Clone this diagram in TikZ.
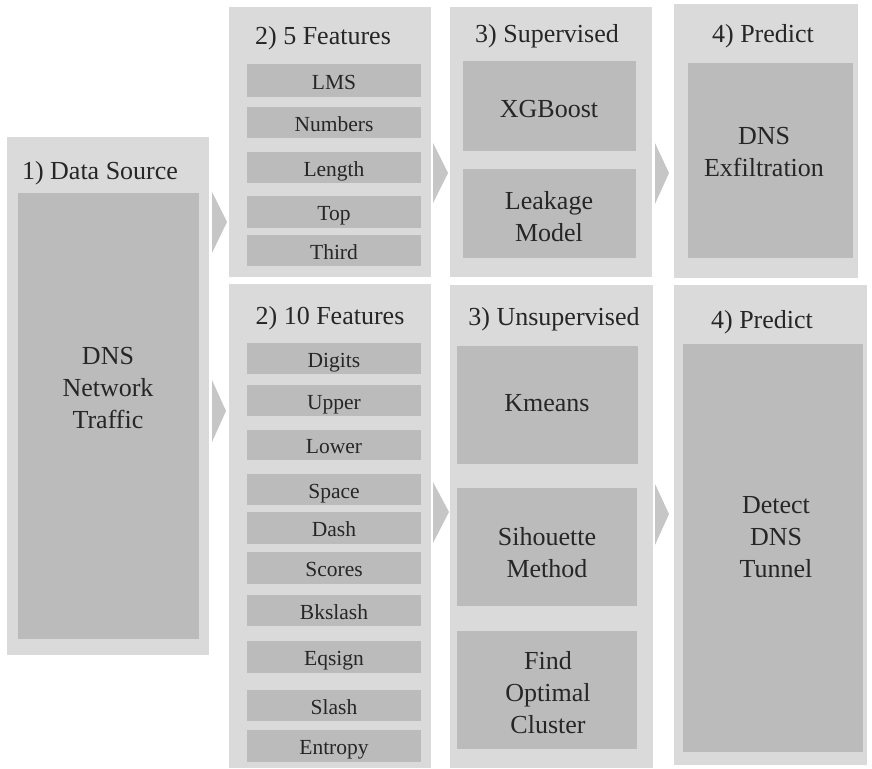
\documentclass[tikz,border=0pt]{standalone}
\usepackage{fontspec}
\setmainfont{Liberation Serif}
\usetikzlibrary{fit}
\definecolor{panelgray}{HTML}{D9DAD9}
\definecolor{boxgray}{HTML}{BBBBBB}
\definecolor{chevgray}{HTML}{C6C6C6}
\definecolor{txt}{HTML}{262626}
\begin{document}
\begin{tikzpicture}[x=1pt,y=-1pt,
  panel/.style={fill=panelgray, draw=none, inner sep=0pt, outer sep=0pt},
  inbox/.style={fill=boxgray, draw=none, inner sep=0pt, outer sep=0pt},
  feat/.style={text=txt, font=\fontsize{21.5}{24}\selectfont, inner sep=0pt, text height=18pt, text depth=1pt},
  big/.style={text=txt, font=\fontsize{26}{32}\selectfont, align=center, inner sep=0pt},
  ttl/.style={text=txt, font=\fontsize{26}{32}\selectfont, anchor=base, inner sep=0pt},
  chev/.style={fill=chevgray, draw=none}]
\useasboundingbox (0,0) rectangle (872,768);
% panels
\node[panel, fit={(7,137) (209,655)}] (ds) {};
\node[panel, fit={(229,7) (431,277)}] (f5) {};
\node[panel, fit={(229,284) (431,768)}] (f10) {};
\node[panel, fit={(450,7) (652,277)}] (sup) {};
\node[panel, fit={(450,285) (653,768)}] (uns) {};
\node[panel, fit={(674,4) (858,278)}] (p1) {};
\node[panel, fit={(674,285) (867,765)}] (p2) {};
% titles
\node[ttl] (tds) at (100,179) {1) Data Source};
\node[ttl] (tf5) at (323,45) {2) 5 Features};
\node[ttl] (tf10) at (330,324) {2) 10 Features};
\node[ttl] (tsup) at (547,43) {3) Supervised};
\node[ttl] (tuns) at (554,325) {3) Unsupervised};
\node[ttl] (tp1) at (763,43) {4) Predict};
\node[ttl] (tp2) at (762,328) {4) Predict};
% inner boxes
\node[inbox, fit={(18,193) (199,639)}] (dsin) {};
\node[big] (dstxt) at (108,388) {DNS\\Network\\Traffic};
\node[inbox, fit={(463,61) (636,151)}] (xgb) {};
\node[big] (xgbtxt) at (549,109) {XGBoost};
\node[inbox, fit={(463,169) (636,258)}] (leak) {};
\node[big] (leaktxt) at (549,217) {Leakage\\Model};
\node[inbox, fit={(688,63) (853,258)}] (exf) {};
\node[big] (exftxt) at (764,152) {DNS\\Exfiltration};
\node[inbox, fit={(457,346) (638,464)}] (km) {};
\node[big] (kmtxt) at (547,403) {Kmeans};
\node[inbox, fit={(457,488) (637,606)}] (sil) {};
\node[big] (siltxt) at (547,553) {Sihouette\\Method};
\node[inbox, fit={(457,631) (637,749)}] (fo) {};
\node[big] (fotxt) at (548,693) {Find\\Optimal\\Cluster};
\node[inbox, fit={(683,344) (863,752)}] (det) {};
\node[big] (dettxt) at (776,537) {Detect\\DNS\\Tunnel};
% 5 features
\node[inbox, fit={(247,64) (421,97)}] (lms) {};
\node[inbox, fit={(247,107) (421,138)}] (num) {};
\node[inbox, fit={(247,152) (421,183)}] (len) {};
\node[inbox, fit={(247,196) (421,228)}] (top) {};
\node[inbox, fit={(247,235) (421,266)}] (thi) {};
\node[feat] at (lms.center) {LMS};
\node[feat] at (num.center) {Numbers};
\node[feat] at (len.center) {Length};
\node[feat] at (top.center) {Top};
\node[feat] at (thi.center) {Third};
% 10 features
\node[inbox, fit={(247,343) (421,374)}] (dig) {};
\node[inbox, fit={(247,385) (421,416)}] (upp) {};
\node[inbox, fit={(247,430) (421,460)}] (low) {};
\node[inbox, fit={(247,474) (421,505)}] (spa) {};
\node[inbox, fit={(247,512) (421,544)}] (das) {};
\node[inbox, fit={(247,552) (421,584)}] (sco) {};
\node[inbox, fit={(247,595) (421,626)}] (bks) {};
\node[inbox, fit={(247,641) (421,673)}] (eqs) {};
\node[inbox, fit={(247,690) (421,721)}] (sla) {};
\node[inbox, fit={(247,730) (421,762)}] (ent) {};
\node[feat] at (dig.center) {Digits};
\node[feat] at (upp.center) {Upper};
\node[feat] at (low.center) {Lower};
\node[feat] at (spa.center) {Space};
\node[feat] at (das.center) {Dash};
\node[feat] at (sco.center) {Scores};
\node[feat] at (bks.center) {Bkslash};
\node[feat] at (eqs.center) {Eqsign};
\node[feat] at (sla.center) {Slash};
\node[feat] at (ent.center) {Entropy};
% chevrons
\fill[chev] ([xshift=3]ds.east |- 0,192) -- ([xshift=18]ds.east |- 0,222) -- ([xshift=3]ds.east |- 0,253) -- cycle;
\fill[chev] ([xshift=3]ds.east |- 0,380) -- ([xshift=17]ds.east |- 0,411) -- ([xshift=3]ds.east |- 0,442) -- cycle;
\fill[chev] ([xshift=2]f5.east |- 0,143) -- ([xshift=17]f5.east |- 0,173) -- ([xshift=2]f5.east |- 0,203) -- cycle;
\fill[chev] ([xshift=2]f10.east |- 0,482) -- ([xshift=18]f10.east |- 0,512) -- ([xshift=2]f10.east |- 0,543) -- cycle;
\fill[chev] ([xshift=3]sup.east |- 0,143) -- ([xshift=17]sup.east |- 0,173) -- ([xshift=3]sup.east |- 0,204) -- cycle;
\fill[chev] ([xshift=2]uns.east |- 0,484) -- ([xshift=16]uns.east |- 0,514) -- ([xshift=2]uns.east |- 0,545) -- cycle;
\end{tikzpicture}
\end{document}
